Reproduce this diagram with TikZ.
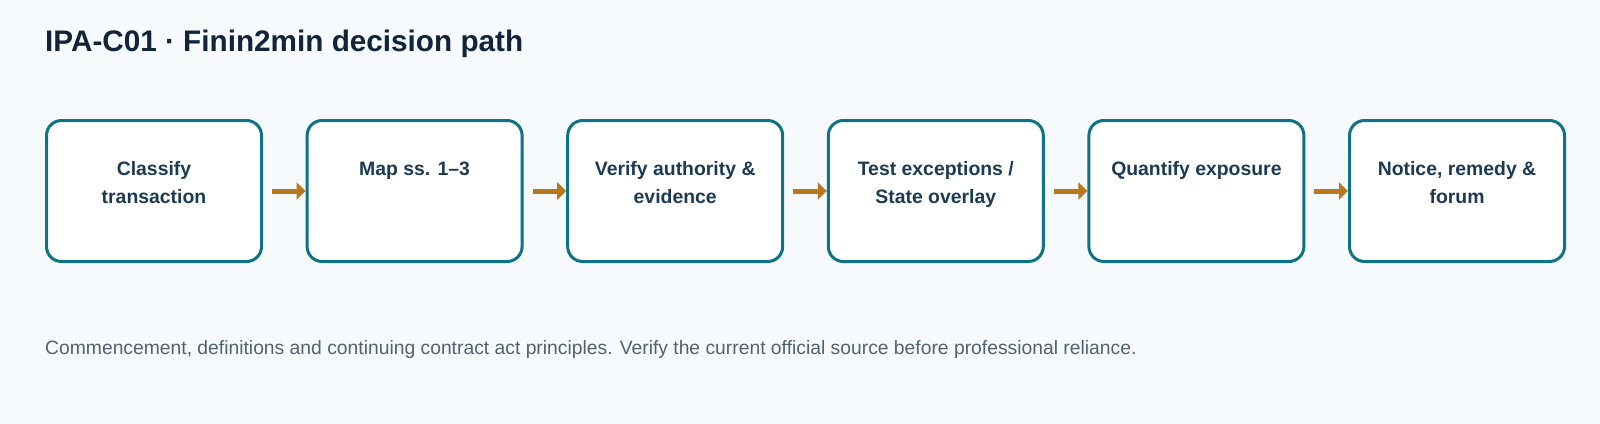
\documentclass[tikz,border=0pt]{standalone}
\usepackage{fontspec}
\setmainfont{Liberation Sans}
\usetikzlibrary{arrows.meta}
\definecolor{bg}{HTML}{F7FAFC}
\definecolor{stroke}{HTML}{0F7386}
\definecolor{titlec}{HTML}{11243A}
\definecolor{boxtext}{HTML}{1D3A55}
\definecolor{footc}{HTML}{536170}
\definecolor{arrowc}{HTML}{B7791F}
\tikzset{
  stepbox/.style={draw=stroke, line width=3pt, fill=white, rounded corners=15pt,
    minimum width=215pt, minimum height=141pt, inner sep=0pt},
  boxlabel/.style={anchor=north, inner sep=0pt, align=center, text=boxtext,
    font=\fontsize{19.4}{27.6}\selectfont\bfseries},
  flow/.style={draw=arrowc, line width=5pt, -{Triangle[length=9pt,width=17pt]}, shorten <=9pt},
}
\begin{document}
\begin{tikzpicture}[x=1pt,y=-1pt]
\fill[bg] (0,0) rectangle (1600,423);
\useasboundingbox (0,0) rectangle (1600,423);
\node[anchor=base west, inner sep=0pt, text=titlec, font=\fontsize{29.7}{34}\selectfont\bfseries] (title) at (45,51) {IPA-C01 · Finin2min decision path};
\foreach \i/\t in {1/{Classify\\transaction},2/{Map ss. 1–3},3/{Verify authority \&\\evidence},4/{Test exceptions /\\State overlay},5/{Quantify exposure},6/{Notice, remedy \&\\forum}}{
  \node[stepbox] (b\i) at ({154+260.6*(\i-1)},191) {};
  \node[boxlabel] (t\i) at ({154+260.6*(\i-1)},161.5) {\t};
}
\foreach \a/\b in {1/2,2/3,3/4,4/5,5/6}{
  \draw[flow] (b\a.east) -- (b\b.west);
}
\node[anchor=base west, inner sep=0pt, text=footc, font=\fontsize{19.3}{22}\selectfont] (foot) at (45,354) {Commencement, definitions and continuing contract act principles. Verify the current official source before professional reliance.};
\end{tikzpicture}
\end{document}
